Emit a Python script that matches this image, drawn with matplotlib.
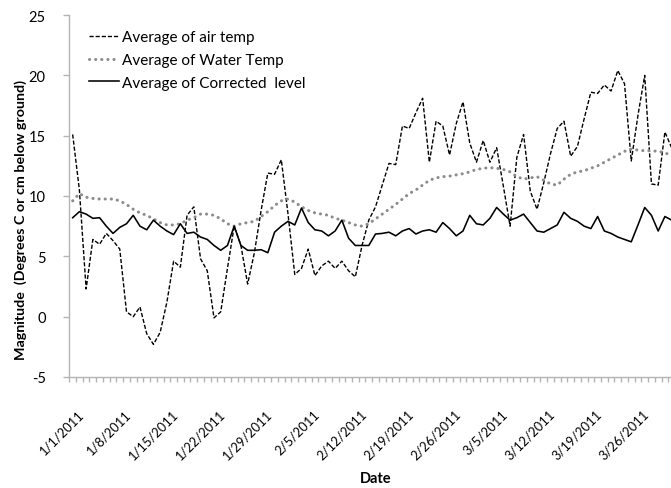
import matplotlib
matplotlib.use("Agg")
import matplotlib.pyplot as plt
import numpy as np
import matplotlib.transforms as mtransforms

# ---------------- data ----------------
air_temp = [15.1, 10.5, 2.3, 6.4, 6.0, 6.9, 6.3, 5.6, 0.4, 0.0,
            0.8, -1.4, -2.3, -1.3, 1.2, 4.6, 4.1, 8.4, 9.1, 4.8,
            3.8, -0.1, 0.4, 4.0, 7.5, 5.9, 2.7, 5.3, 8.8, 11.9,
            11.8, 13.0, 8.5, 3.5, 4.0, 5.6, 3.4, 4.2, 4.6, 4.0,
            4.6, 3.8, 3.3, 5.9, 8.0, 9.1, 10.9, 12.7, 12.6, 15.8,
            15.6, 16.9, 18.1, 12.8, 16.2, 15.8, 13.4, 16.0, 17.8, 14.4,
            12.8, 14.6, 12.8, 14.0, 10.8, 7.5, 13.2, 15.1, 10.4, 8.9,
            11.1, 13.5, 15.6, 16.2, 13.3, 14.1, 16.4, 18.6, 18.5, 19.2,
            18.7, 20.4, 19.3, 12.9, 16.7, 20.0, 11.0, 10.9, 15.3, 14.0]

water_temp = [9.6, 10.2, 9.9, 9.8, 9.75, 9.75, 9.75, 9.6, 9.3, 8.9,
              8.6, 8.4, 8.1, 7.8, 7.6, 7.6, 7.7, 8.0, 8.2, 8.5,
              8.5, 8.4, 8.1, 7.7, 7.5, 7.7, 7.8, 7.9, 8.3, 8.7,
              9.2, 9.6, 9.75, 9.5, 9.1, 8.8, 8.6, 8.5, 8.4, 8.15,
              8.0, 7.8, 7.6, 7.5, 7.7, 8.1, 8.5, 8.9, 9.3, 9.75,
              10.2, 10.5, 10.9, 11.3, 11.5, 11.6, 11.65, 11.75, 11.85, 12.0,
              12.2, 12.3, 12.35, 12.3, 12.2, 12.0, 11.6, 11.4, 11.5, 11.6,
              11.3, 11.0, 10.9, 11.4, 11.8, 12.0, 12.1, 12.3, 12.5, 12.8,
              13.1, 13.4, 13.7, 13.9, 13.8, 13.75, 13.75, 13.7, 13.6, 13.3]

corrected_level = [8.2, 8.7, 8.5, 8.15, 8.2, 7.5, 6.9, 7.4, 7.7, 8.4,
                   7.5, 7.2, 8.0, 7.5, 7.1, 6.8, 7.7, 6.9, 7.0, 6.6,
                   6.4, 5.9, 5.5, 5.9, 7.5, 5.9, 5.5, 5.5, 5.55, 5.3,
                   7.0, 7.5, 7.9, 7.6, 9.0, 7.8, 7.2, 7.1, 6.7, 7.1,
                   8.0, 6.5, 5.9, 5.9, 5.9, 6.85, 6.9, 7.0, 6.7, 7.1,
                   7.3, 6.85, 7.1, 7.2, 7.0, 7.8, 7.3, 6.7, 7.1, 8.4,
                   7.7, 7.6, 8.15, 9.05, 8.5, 8.0, 8.2, 8.5, 7.8, 7.1,
                   7.0, 7.3, 7.6, 8.65, 8.15, 7.9, 7.5, 7.3, 8.3, 7.1,
                   6.9, 6.6, 6.4, 6.2, 7.6, 9.05, 8.4, 7.1, 8.3, 8.0]

tick_labels = ["1/1/2011", "1/8/2011", "1/15/2011", "1/22/2011", "1/29/2011",
               "2/5/2011", "2/12/2011", "2/19/2011", "2/26/2011", "3/5/2011",
               "3/12/2011", "3/19/2011", "3/26/2011"]
label_every = 7

series_names = ["Average of air temp", "Average of Water Temp",
                "Average of Corrected  level"]

# ---------------- figure ----------------
W, H = 671, 489
FONT = "Lato"
plt.rcParams["font.family"] = [FONT, "DejaVu Sans"]
plt.rcParams["axes.unicode_minus"] = False

fig = plt.figure(figsize=(W / 100, H / 100), dpi=100)
left_px, right_px, top_px, bot_px = 69.3, 675.0, 16.0, 378.0
ax = fig.add_axes([left_px / W, (H - bot_px) / H,
                   (right_px - left_px) / W, (bot_px - top_px) / H])

n = len(air_temp)
x = np.arange(n)

ax.plot(x, air_temp, color="black", lw=1.0, linestyle=(0, (3.0, 1.4)),
        label=series_names[0])
ax.plot(x, water_temp, color="#8c8c8c", lw=2.2, linestyle=(0, (0.05, 1.95)),
        dash_capstyle="round", label=series_names[1])
ax.plot(x, corrected_level, color="black", lw=1.15, label=series_names[2])

ax.set_xlim(-0.5, n - 0.5)
ax.set_ylim(-5, 25)

gray = "#b4b4b4"
for s in ("top", "right"):
    ax.spines[s].set_visible(False)
for s in ("left", "bottom"):
    ax.spines[s].set_color(gray)
    ax.spines[s].set_linewidth(1.0)

ax.set_yticks(np.arange(-5, 26, 5))
ax.tick_params(axis="y", length=4, width=1, color=gray, pad=13,
               labelsize=10.5, labelcolor="black")

ax.set_xticks(np.arange(0, n, label_every)[:len(tick_labels)])
ax.set_xticklabels(tick_labels)
ax.set_xticks(np.arange(-0.5, n, 1), minor=True)
ax.tick_params(axis="x", which="major", length=0, pad=22, labelsize=9.3)
ax.tick_params(axis="x", which="minor", length=3.5, width=1, color=gray)

offset = mtransforms.ScaledTranslation(5 / 100, 0, fig.dpi_scale_trans)
for lab in ax.get_xticklabels():
    lab.set_rotation(45)
    lab.set_ha("right")
    lab.set_va("top")
    lab.set_rotation_mode("anchor")
    lab.set_transform(lab.get_transform() + offset)

leg = ax.legend(loc="upper left", bbox_to_anchor=(89 / W, 1 - 31 / H),
                bbox_transform=fig.transFigure, frameon=False,
                borderpad=0, borderaxespad=0, handlelength=1.96,
                handletextpad=0.2, labelspacing=0.58, fontsize=11)

fig.text(21 / W, 1 - 220 / H, "Magnitude  (Degrees C or cm below ground)",
         rotation=90, ha="center", va="center", fontsize=10.3,
         fontweight="bold")
fig.text(376 / W, 1 - 479 / H, "Date", ha="center", va="center",
         fontsize=10.5, fontweight="bold")

fig.savefig("out.png", dpi=100)
